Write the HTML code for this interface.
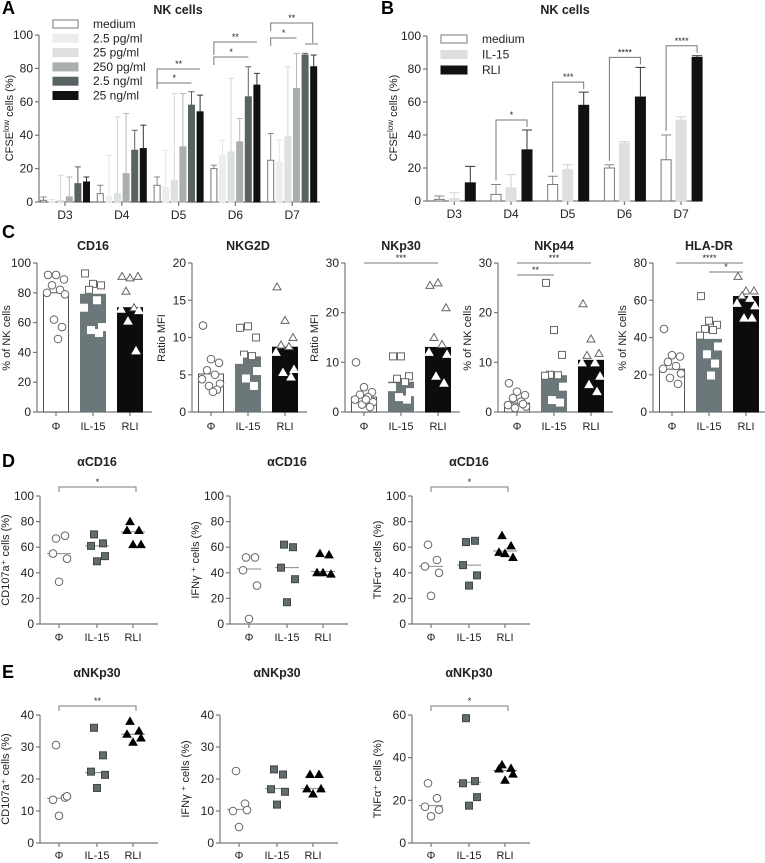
<!DOCTYPE html>
<html><head><meta charset="utf-8"><style>
html,body{margin:0;padding:0;background:#fff;}
svg{display:block;font-family:"Liberation Sans",sans-serif;}
</style></head><body>
<svg id="fig" width="765" height="863" viewBox="0 0 765 863"></svg>
<script>
// ---------- Panel A data ----------
const aCats=['D3','D4','D5','D6','D7'];
const aSeriesNames=['medium','2.5 pg/ml','25 pg/ml','250 pg/ml','2.5 ng/ml','25 ng/ml'];
const aMedium=[1,5,10,20,25];
const aMediumSd=[2,5,5,2,16];
const a25pg2=[0.5,3,9,28,24];
const a25pg2Sd=[1,25,22,9,13];
const a25pg=[1,5,13,30,39];
const a25pgSd=[15,46,52,44,42];
const a250pg=[3,17,33,36,68];
const a250pgSd=[12,36,32,14,21];
const a25ng2=[11,31,58,63,88];
const a25ng2Sd=[10,12,8,18,1];
const a25ng=[12,32,54,70,81];
const a25ngSd=[3,14,10,7,7];
const aTicks=[0,20,40,60,80,100];
// ---------- Panel B data ----------
const bCats=['D3','D4','D5','D6','D7'];
const bMedium=[1,4,10,20,25];
const bMediumSd=[2,6,5,2,15];
const bIL15=[1.5,8,19,35,49];
const bIL15Sd=[3.5,8,3,1,2];
const bRLI=[11,31,58,63,87];
const bRLISd=[10,12,8,18,1];
const bStars=['','*','***','****','****'];
// ---------- Panel C data ----------
const cTitles=['CD16','NKG2D','NKp30','NKp44','HLA-DR'];
const cMax=[100,20,30,30,80];
const cTicks=[[0,20,40,60,80,100],[0,5,10,15,20],[0,10,20,30],[0,10,20,30],[0,20,40,60,80]];
const cYLabels=['% of NK cells','Ratio MFI','Ratio MFI','% of NK cells','% of NK cells'];
const cBarMedium=[80,5.1,3,1.8,23];
const cBarIL15=[79,7.4,6,7.3,39];
const cBarRLI=[70,8.7,13,10.4,62];
const cPtsMedium=[[92,92,89,85,82,80,79,62,57,49],[11.6,7.1,6.6,5.6,5.0,4.4,3.8,3.5,3.0,2.7],[10,5,4,3.5,3,2.5,2,1.5,1,2.5],[5.8,4.1,3.4,2.8,2.1,1.4,1.1,0.8,1.6],[44.6,30.5,29.8,26.9,24.7,23.2,20.7,18.3,15.1]];
const cPtsIL15=[[93,86,85,82,75,70,57,55,53],[11.3,11.5,10,7.7,7.5,7.0,5.5,4.5,3.5],[11.2,11.2,7.2,6.7,6,5,4,3,2.5],[26,16.5,11.5,7.5,7.4,7.3,5.1,2.4,1.9],[62.2,49,46.8,44.6,44,41,35.2,31,26,19.6]];
const cPtsRLI=[[91,90,91,81,70,69,68,61,41],[16.8,12.3,10,9,8.8,8,5.7,5.3,4.7],[25.5,26,21,15,13.6,12,11.6,7.2,5.8],[21.8,14.7,11.8,11.4,9.9,9.9,7.2,5.5,4.1],[72.8,65,65,62.4,61,58.3,57,50.4,50.4]];
// ---------- Panel D data ----------
const dTitles=['αCD16','αCD16','αCD16'];
const dYLabels=['CD107a⁺ cells (%)','IFNγ ⁺ cells (%)','TNFα⁺ cells (%)'];
const dTicks=[0,20,40,60,80,100];
const dMedium=[[66.8,69,55,51,33],[52,52,42,30,4],[62,50,45,40,22]];
const dIL15=[[70,63,61,53,49],[62,60,44,35,17],[64,65,46,38,30]];
const dRLI=[[80,73,73,62,62],[55,54,40,39,40],[69,61,56,52,55]];
const dMedMedium=[55,43,45];
const dMedIL15=[61,44,46];
const dMedRLI=[72,41,57];
const dStars=['*','','*'];
// ---------- Panel E data ----------
const eTitles=['αNKp30','αNKp30','αNKp30'];
const eMax=[40,40,60];
const eTicks=[[0,10,20,30,40],[0,10,20,30,40],[0,20,40,60]];
const eMedium=[[30.6,14.2,13.5,14.6,8.5],[22.5,12.3,10,10.3,5],[28,21,17,15.6,12.5]];
const eIL15=[[36,27.4,22.3,21.3,17.2],[23,21.4,16.8,16,12],[58.5,29,28,21.5,17.5]];
const eRLI=[[38,35,34,32.8,31.5],[21.4,21.4,16.9,16.9,15.3],[36.6,35,34.7,32.3,29.4]];
const eMedMedium=[14,10.5,17.5];
const eMedIL15=[22,17,28.5];
const eMedRLI=[34,17,34];
const eStars=['**','','*'];

const NS='http://www.w3.org/2000/svg';
const svg=document.getElementById('fig');
const AX='#777', TX='#222';
function mk(tag,attrs,parent){const e=document.createElementNS(NS,tag);for(const k in attrs)e.setAttribute(k,attrs[k]);(parent||svg).appendChild(e);return e;}
function txt(x,y,s,attrs,parent){const e=mk('text',Object.assign({x:x,y:y,fill:TX},attrs||{}),parent);e.textContent=s;return e;}
function scale(max,y0,yTop){return v=>y0-(v/max)*(y0-yTop);}

function yAxis(g,x,y0,yTop,ticks,max,fs){
  const sy=scale(max,y0,yTop);
  const ln=mk('line',{x1:x,y1:y0,x2:x,y2:yTop,stroke:AX,'stroke-width':1.2},g);
  
  
  ticks.forEach(t=>{
    const tk=mk('line',{x1:x-4,y1:sy(t),x2:x,y2:sy(t),stroke:AX,'stroke-width':1.2},g);
    
    
    const tl=txt(x-6,sy(t)+4,String(t),{'text-anchor':'end','font-size':fs||12},g);
    
    
  });
  return sy;
}
function yTitle(g,x,yc,s,fs,sup){
  const t=txt(x,yc,s,{'text-anchor':'middle','font-size':fs||11,transform:'rotate(-90 '+x+' '+yc+')'},g);
  if(sup){
    t.textContent='';
    const a=mk('tspan',{},t);a.textContent=s;
    const b=mk('tspan',{dy:-4,'font-size':8},t);b.textContent=sup;
    const c=mk('tspan',{dy:4},t);c.textContent=' cells (%)';
  }
  
  
  return t;
}
function xAxis(g,x1,x2,y,centers,labels,fs,ly){
  const ln=mk('line',{x1:x1,y1:y,x2:x2,y2:y,stroke:AX,'stroke-width':1.2},g);
  
  
  centers.forEach((c,i)=>{
    const tk=mk('line',{x1:c,y1:y,x2:c,y2:y+4,stroke:AX,'stroke-width':1.2},g);
    
    
    const tl=txt(c,ly||y+17,labels[i],{'text-anchor':'middle','font-size':fs||12},g);
    
    
  });
}
function title(g,x,y,s){
  const t=txt(x,y,s,{'text-anchor':'middle','font-size':12.5,'font-weight':'bold'},g);
  
  
}
function panelLabel(x,y,s){
  const t=txt(x,y,s,{'font-size':18,'font-weight':'bold',fill:'#000'});
  
  
}
function bracket(g,x1,x2,y,l1,l2,s){
  const p=mk('path',{d:'M'+x1+' '+(y+l1)+'V'+y+'H'+x2+'V'+(y+l2),fill:'none',stroke:AX,'stroke-width':1},g);
  
  
  if(s){const t=txt((x1+x2)/2,y-2,s,{'text-anchor':'middle','font-size':9},g);
  
  }
}
function bar(g,cx,w,v,sd,sy,fill,stroke,errCol,name){
  const r=mk('rect',{x:cx-w/2,y:sy(v),width:w,height:Math.max(0,sy(0)-sy(v)),fill:fill,stroke:stroke,'stroke-width':1},g);
  
  
  if(sd!=null){
    const e=mk('path',{d:'M'+cx+' '+sy(v)+'V'+sy(v+sd)+'M'+(cx-w/2)+' '+sy(v+sd)+'H'+(cx+w/2),stroke:errCol,'stroke-width':1,fill:'none'},g);
    
    
  }
}
function marker(g,kind,x,y,fill,stroke,name){
  let m;
  if(kind==='c') m=mk('circle',{cx:x,cy:y,r:3.8,fill:fill,stroke:stroke,'stroke-width':1},g);
  else if(kind==='s') m=mk('rect',{x:x-3.5,y:y-3.5,width:7,height:7,fill:fill,stroke:stroke,'stroke-width':1},g);
  else m=mk('path',{d:'M'+x+' '+(y-4)+'L'+(x+4)+' '+(y+3)+'L'+(x-4)+' '+(y+3)+'Z',fill:fill,stroke:stroke,'stroke-width':1},g);
  
  
}

// ================= Panel A =================
(function(){
  const g=mk('g',{});
  
  
  panelLabel(2,14,'A');
  title(g,178,14,'NK cells');
  const sy=yAxis(g,39,202,35,aTicks,100);
  yTitle(g,13,118,'CFSE',11,'low');
  const centers=aCats.map((c,i)=>65+56.8*i);
  xAxis(g,39,320,202,centers,aCats,12,219);
  const vals=[aMedium,a25pg2,a25pg,a250pg,a25ng2,a25ng];
  const sds=[aMediumSd,a25pg2Sd,a25pgSd,a250pgSd,a25ng2Sd,a25ngSd];
  const fills=['#fff','#eceeed','#dde0df','#a9aeae','#5a6364','#111'];
  const strokes=['#777','#eceeed','#dde0df','#a9aeae','#5a6364','#111'];
  const errs=['#888','#e4e6e5','#d6d9d8','#b5b9b9','#5a6364','#333'];
  aCats.forEach((c,i)=>{
    vals.forEach((arr,j)=>{
      bar(g,centers[i]+(j-2.5)*8.6,6,arr[i],sds[j][i],sy,fills[j],strokes[j],errs[j],'bar-'+c.toLowerCase()+'-series'+j);
    });
  });
  aSeriesNames.forEach((n,j)=>{
    const r=mk('rect',{x:53,y:20+j*14.3,width:25,height:8,fill:fills[j],stroke:strokes[j]},g);
    
    
    const t=txt(93,28+j*14.3,n,{'font-size':12},g);
    
    
  });
  const bx=(i,j)=>centers[i]+(j-2.5)*8.6;
  bracket(g,bx(2,0),bx(2,4),83,6,0,'*');
  bracket(g,bx(2,0),bx(2,5),69,14,0,'**');
  bracket(g,bx(3,0),bx(3,4),57,8,0,'*');
  bracket(g,bx(3,0),bx(3,5),42,13,0,'**');
  bracket(g,bx(4,0),bx(4,3),38,8,0,'*');
  bracket(g,bx(4,0),bx(4,5)-1,23,8,20,'**');
  const sh=mk('line',{x1:305,y1:44,x2:318,y2:44,stroke:AX},g);
  
  
})();

// ================= Panel B =================
(function(){
  const g=mk('g',{});
  
  
  panelLabel(381,14,'B');
  title(g,565,14,'NK cells');
  const sy=yAxis(g,427,201,36,aTicks,100);
  yTitle(g,397,118,'CFSE',11,'low');
  const base=bCats.map((c,i)=>439.3+56.7*i);
  xAxis(g,427,700,201,base.map(b=>b+15),bCats,12,218);
  bCats.forEach((c,i)=>{
    bar(g,base[i],10,bMedium[i],bMediumSd[i],sy,'#fff','#777','#888','bar-'+c.toLowerCase()+'-medium');
    bar(g,base[i]+15,10,bIL15[i],bIL15Sd[i],sy,'#dde0df','#dde0df','#d0d4d3','bar-'+c.toLowerCase()+'-il15');
    bar(g,base[i]+31,10,bRLI[i],bRLISd[i],sy,'#111','#111','#333','bar-'+c.toLowerCase()+'-rli');
    if(bStars[i]){
      const top=sy(bRLI[i]+bRLISd[i])-10;
      const left=sy(bMedium[i]+bMediumSd[i])-4;
      bracket(g,base[i],base[i]+31,top,left-top,7,bStars[i]);
    }
  });
  const ln=['medium','IL-15','RLI'],lf=['#fff','#dde0df','#111'],ls=['#777','#dde0df','#111'];
  ln.forEach((n,j)=>{
    const r=mk('rect',{x:441,y:35+j*15.5,width:26,height:8,fill:lf[j],stroke:ls[j]},g);
    
    
    const t=txt(482,43+j*15.5,n,{'font-size':12},g);
    
    
  });
})();

// ================= Panel C =================
panelLabel(2,238,'C');
const cAxisX=[37,192,345,498,653];
cTitles.forEach((tname,k)=>{
  const g=mk('g',{});
  
  
  const ax=cAxisX[k];
  const sy=yAxis(g,ax,412,263,cTicks[k],cMax[k]);
  yTitle(g,ax-27,338,cYLabels[k]);
  const cs=[ax+19,ax+56,ax+93];
  title(g,cs[1],250,tname);
  xAxis(g,ax,ax+115,412,cs,['Φ','IL-15','RLI'],11,430);
  const bars=[cBarMedium,cBarIL15,cBarRLI];
  const fills=['#fff','#6b7778','#0c0c0c'];
  const pts=[cPtsMedium,cPtsIL15,cPtsRLI];
  const kinds=['c','s','t'];
  bars.forEach((b,j)=>{
    bar(g,cs[j],25,b[k],null,sy,fills[j],j===0?'#555':fills[j],null,'bar-'+tname.toLowerCase()+'-'+['medium','il15','rli'][j]);
    const p=pts[j][k];
    p.forEach((v,i)=>{
      const off=[-8,0,8,-4,4,-9,9,-2,6,2][i];
      const inside=v<b[k];
      const st=(j>0&&inside)?'#fff':'#666';
      marker(g,kinds[j],cs[j]+off,sy(v),'#fff',st,'point-'+tname.toLowerCase());
    });
  });
  if(k===2){bracket(g,cs[0],cs[2],263,0,0,'***');}
  if(k===3){bracket(g,cs[0],cs[2],263,0,0,'***');bracket(g,cs[0],cs[1],275,0,0,'**');}
  if(k===4){bracket(g,cs[0]+4,cs[2]-3,263,0,0,'****');bracket(g,cs[1],cs[2]-3,272,0,0,'*');}
});

// ================= Dot plot helper (D/E) =================
function dotPanel(ax,y0,yTop,max,ticks,ttl,ylab,med,il,rli,mMed,mIl,mRli,star,name,ttlY,labY){
  const g=mk('g',{});
  
  
  const sy=yAxis(g,ax,y0,yTop,ticks,max,12);
  yTitle(g,ax-31,(y0+yTop)/2,ylab,11);
  const cs=[ax+19,ax+57,ax+93];
  title(g,cs[1],ttlY,ttl);
  xAxis(g,ax,ax+118,y0,cs,['Φ','IL-15','RLI'],11,labY);
  const groups=[med,il,rli],meds=[mMed,mIl,mRli];
  const kinds=['c','s','t'],fills=['#fff','#5f6d6f','#000'],strokes=['#666','#444','#000'];
  groups.forEach((arr,j)=>{
    const m=mk('line',{x1:cs[j]-12,y1:sy(meds[j]),x2:cs[j]+12,y2:sy(meds[j]),stroke:'#888','stroke-width':1},g);
    
    
    arr.forEach((v,i)=>{
      const off=[-3,6,-6,8,0][i];
      marker(g,kinds[j],cs[j]+off,sy(v),fills[j],strokes[j],'data-point');
    });
  });
  if(star) bracket(g,cs[0],cs[2]+3,yTop-9,5,5,star);
}
panelLabel(2,467,'D');
const dAx=[40,230,412];
dAx.forEach((ax,k)=>{
  dotPanel(ax,624,496,100,dTicks,dTitles[k],dYLabels[k],dMedium[k],dIL15[k],dRLI[k],dMedMedium[k],dMedIL15[k],dMedRLI[k],dStars[k],'panel-d-plot-'+(k+1),466,641);
});
panelLabel(2,678,'E');
const eAx=[40,220,412];
eAx.forEach((ax,k)=>{
  dotPanel(ax,843,715,eMax[k],eTicks[k],eTitles[k],dYLabels[k],eMedium[k],eIL15[k],eRLI[k],eMedMedium[k],eMedIL15[k],eMedRLI[k],eStars[k],'panel-e-plot-'+(k+1),677,859);
});
</script>
</body></html>
